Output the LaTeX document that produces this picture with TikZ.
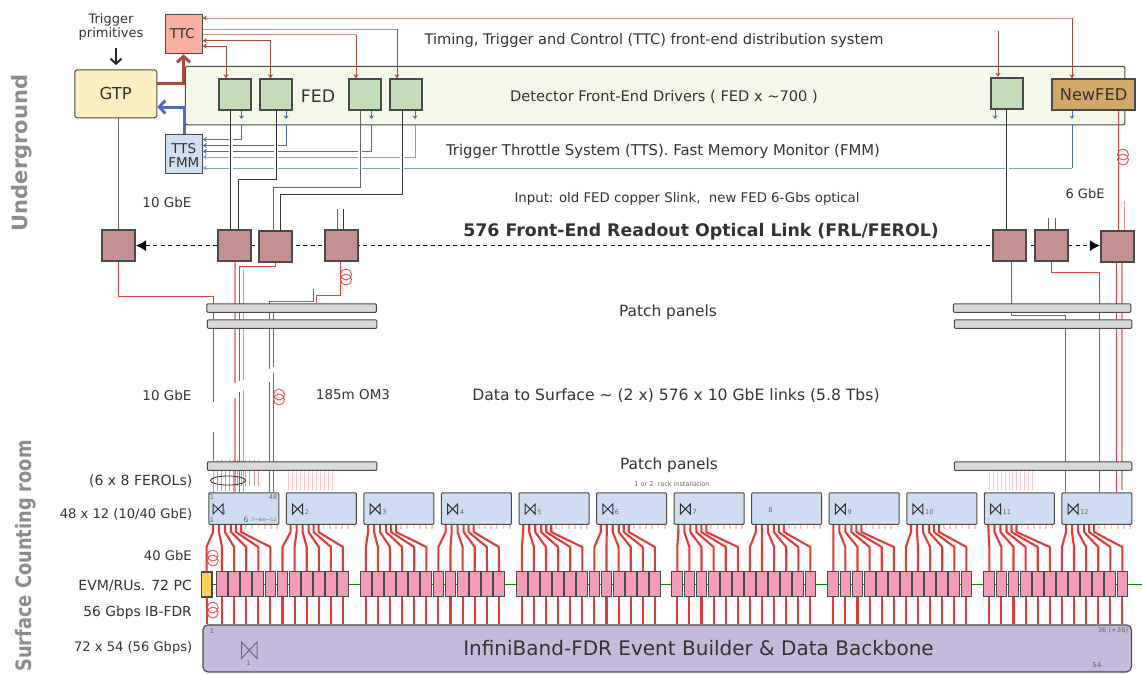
\documentclass[tikz,border=0pt]{standalone}
\usepackage{fontspec}
\setmainfont{DejaVu Sans}
\newfontfamily\sidefont[FakeStretch=0.84]{DejaVu Sans Bold}
\usetikzlibrary{arrows.meta}
\pgfdeclarelayer{bgzero}\pgfdeclarelayer{bgone}
\pgfsetlayers{bgzero,bgone,main}
\definecolor{ink}{HTML}{333333}
\definecolor{edge}{HTML}{4A4A4A}
\definecolor{fib}{HTML}{E83C3C}
\definecolor{fibl}{HTML}{F29090}
\definecolor{fibp}{HTML}{FFC4C4}
\definecolor{pull}{HTML}{E23A3A}
\definecolor{ttcl}{HTML}{A94A3A}
\definecolor{ttcp}{HTML}{C78F80}
\definecolor{ttsl}{HTML}{4A6FB8}
\definecolor{ttsp}{HTML}{7F9BD0}
\definecolor{ttcf}{HTML}{F9B0A0}
\definecolor{ttsf}{HTML}{CFE0F3}
\definecolor{gtpf}{HTML}{FDEFC2}
\definecolor{fedb}{HTML}{F4F8E8}
\definecolor{fedf}{HTML}{C2DDB8}
\definecolor{newf}{HTML}{D2A86A}
\definecolor{frlf}{HTML}{C49190}
\definecolor{panf}{HTML}{D8D9D9}
\definecolor{swf}{HTML}{CEDDF2}
\definecolor{pcf}{HTML}{F49DBA}
\definecolor{yelf}{HTML}{FFD060}
\definecolor{ibf}{HTML}{C6BADC}
\definecolor{coil}{HTML}{F04848}
\definecolor{sidet}{HTML}{8C8C8C}
\newcommand{\fs}[1]{\fontsize{#1}{#1}\selectfont}
\tikzset{
  x=1pt,y=-1pt,
  box/.style={draw=edge,line width=1pt,inner sep=0pt,anchor=north west,text=ink,xshift=-.7pt,yshift=.7pt},
  fedbox/.style={box,fill=fedf,line width=1.7pt,minimum width=32pt,minimum height=31pt},
  frlbox/.style={box,fill=frlf,line width=1.7pt,minimum width=33pt,minimum height=31pt},
  panel/.style={box,fill=panf,rounded corners=1pt,minimum height=8.5pt},
  swbox/.style={box,fill=swf,rounded corners=1pt,minimum width=70pt,minimum height=31.5pt},
  lab/.style={text=ink,inner sep=0pt,font=\fs{14}},
  rlab/.style={lab,anchor=east},
  tiny/.style={text=ink!75,inner sep=0pt,font=\fs{6.5}},
  ttcline/.style={ttcl,line width=.9pt,{Stealth[length=4pt,width=5pt]}-{Stealth[length=4pt,width=5pt]}},
  ttcdrop/.style={ttcl,line width=.9pt,-{Stealth[length=4pt,width=5pt]}},
  ttsline/.style={ttsl,line width=.9pt,{Stealth[length=4pt,width=5pt]}-},
  ttsdrop/.style={ttsl,line width=.8pt,-{Stealth[length=3.5pt,width=5pt]}},
  blk/.style={draw=ink,line width=1pt},
  gline/.style={draw=gray!80!black,line width=1pt},
  fibre/.style={fib,line width=1pt},
  fibrel/.style={fibl,line width=1.3pt},
  bundle/.style={pull,line width=2.1pt,line join=round},
  coilc/.style={coil,line width=.9pt},
  gapw/.style={white,line width=4pt},
}
\begin{document}
\begin{tikzpicture}
\useasboundingbox (0,0) rectangle (1142,673);

% ---------- nodes ----------
\node[box,fill=ttcf,minimum width=37pt,minimum height=39.5pt] (ttc) at (165.5,14.5) {\fs{13.5}\kern-3pt TTC};
\node[box,fill=ttsf,minimum width=37pt,minimum height=39.5pt] (tts) at (165.5,134.5) {};
\node[lab,align=center,font=\fs{13.5}] (ttslab) at ([yshift=-1.5pt]tts.center) {TTS\\[1pt]FMM};
\node[box,fill=gtpf,rounded corners=2.5pt,minimum width=82pt,minimum height=48pt] (gtp) at (75,70) {\fs{16.5}GTP};
\begin{pgfonlayer}{bgzero}
\node[box,fill=fedb,rounded corners=2pt,line width=1.1pt,minimum width=939.5pt,minimum height=58.5pt] (fedall) at (185.5,66.5) {};
\end{pgfonlayer}
\node[fedbox] (fed1) at (219,79) {};
\node[fedbox] (fed2) at (260,79) {};
\node[fedbox] (fed3) at (349,79) {};
\node[fedbox] (fed4) at (389.5,79) {};
\node[fedbox] (fed5) at (990.5,77.5) {};
\node[box,fill=newf,line width=1.5pt,minimum width=83pt,minimum height=31pt] (newfed) at (1052,79) {\fs{16.2}NewFED};

\node[frlbox] (frl0) at (102,230) {};
\node[frlbox] (frl1) at (217.5,230) {};
\node[frlbox] (frl2) at (259,231) {};
\node[frlbox] (frl3) at (325,230) {};
\node[frlbox] (frl4) at (993,230) {};
\node[frlbox] (frl5) at (1035,230) {};
\node[frlbox] (frl6) at (1100.5,231) {};

\node[panel,minimum width=169.5pt] (pa1) at (207,304) {};
\node[panel,minimum width=169.5pt] (pa2) at (207.5,320) {};
\node[panel,minimum width=169.5pt] (pa3) at (207.5,462) {};
\node[panel,minimum width=177.5pt] (pb1) at (953.5,304) {};
\node[panel,minimum width=177.5pt] (pb2) at (954.5,320) {};
\node[panel,minimum width=177.5pt] (pb3) at (954.5,462) {};

\node[box,fill=ibf,rounded corners=5pt,line width=1.2pt,minimum width=928.5pt,minimum height=47pt] (ib) at (203,625) {};
\node[text=ink,inner sep=0pt,font=\fs{20}] (ibt) at (698.5,648.5) {InfiniBand-FDR Event Builder \& Data Backbone};

% switches
\foreach \b in {1,...,12}{
  \pgfmathsetmacro{\sx}{209+77.55*(\b-1)}
  \node[swbox] (sw\b) at (\sx,493) {};
  \foreach \t in {0,...,5}{
    \draw[fibp,line width=1.8pt] (\sx+37+6.2*\t,525) -- (\sx+37+6.2*\t,528.5);
  }
}

% computers
\foreach \b in {1,...,12}{
  \foreach \i in {0,...,5}{
    \pgfmathtruncatemacro{\g}{int((\b-1)/2)}
    \pgfmathtruncatemacro{\n}{6*(\b-1)+\i+1}
    \pgfmathsetmacro{\gs}{{205.1,361,517,672.5,828.5,984.5}[\g]}
    \pgfmathsetmacro{\px}{\gs+5.5+12.1*(\i+6*mod(\b-1,2))}
    \ifnum\n=1
      \node[box,fill=yelf,line width=1.5pt,minimum width=10.5pt,minimum height=25pt,anchor=north] (pc\n) at (207.25,572) {};
    \else
      \node[box,fill=pcf,minimum width=10.8pt,minimum height=25pt,anchor=north] (pc\n) at (\px,572) {};
    \fi
    \begin{pgfonlayer}{bgone}
      \pgfmathsetmacro{\off}{{4,10,16,22,27,32}[\i]}
      \pgfmathsetmacro{\sx}{209+77.55*(\b-1)+\off}
      \draw[bundle] (sw\b.south -| \sx,0) -- (\sx,532) -- (pc\n.north |- 0,547) -- (pc\n.north);
      \draw[bundle] (pc\n.south) -- (ib.north -| pc\n.south);
    \end{pgfonlayer}
  }
}

\begin{pgfonlayer}{bgone}
% green network line
\draw[green!55!black,line width=.9pt] (pc1.east |- 0,584.5) -- (1142,584.5);

% thick GTP links
\draw[ttcl,line width=3pt,-{Straight Barb[length=6pt,width=13pt]},line join=miter] (gtp.east |- 0,83.5) -- (183.5,83.5) -- (ttc.south -| 183.5,0);
\draw[ttsl,line width=3pt,-{Straight Barb[length=6pt,width=13pt]},line join=miter] (tts.north -| 184,0) -- (184,107) -- (gtp.east |- 0,107);

% TTC distribution
\draw[ttcdrop,ttcp,{Stealth[length=4pt,width=5pt,color=ttcl]}-] (ttc.east |- 0,18) -- (1072,18);
\draw[ttcdrop] (1072,18) -- (newfed.north -| 1072,0);
\draw[ttcline,ttcp,-] (ttc.east |- 0,29) -- (397,29);
\draw[ttcdrop] (397,29) -- (fed4.north -| 397,0);
\draw[ttcline,ttcp,-] (ttc.east |- 0,34.5) -- (356,34.5);
\draw[ttcdrop] (356,34.5) -- (fed3.north -| 356,0);
\draw[ttcline] (ttc.east |- 0,40.5) -- (270.5,40.5) -- (fed2.north -| 270.5,0);
\draw[ttcline] (ttc.east |- 0,46) -- (226,46) -- (fed1.north -| 226,0);
\coordinate (ttcfree) at (998,31);
\draw[ttcdrop] (ttcfree) -- (fed5.north -| 998,0);

% TTS collection
\foreach \f/\x in {fed1/241.5,fed2/286,fed3/371.5,fed4/415,fed5/995,newfed/1072}{
  \draw[ttsdrop] (\f.south -| \x,0) -- (\x,119);
}
\draw[ttsline] (tts.east |- 0,139.5) -- (241.5,139.5) -- (fedall.south -| 241.5,0);
\draw[ttsline] (tts.east |- 0,145.5) -- (286,145.5) -- (fedall.south -| 286,0);
\draw[ttsline] (tts.east |- 0,151.5) -- (371.5,151.5) -- (fedall.south -| 371.5,0);
\draw[ttsline,ttsp] (tts.east |- 0,157) -- (415,157) -- (fedall.south -| 415,0);
\draw[ttsline,ttsp] (tts.east |- 0,168) -- (1072,168);
\draw[ttsl,line width=.9pt] (1072,168) -- (fedall.south -| 1072,0);

% crossing gaps
\foreach \x in {230.5,276,360,402}{ \draw[gapw] (\x,135) -- (\x,171); }
\draw[gapw] (1006.7,165) -- (1006.7,171);

% copper links
\draw[blk] (fed1.south -| 230.5,0) -- (frl1.north -| 230.5,0);
\draw[blk] (fed2.south -| 276,0) -- (276,179) -- (238.7,179) -- (frl1.north -| 238.7,0);
\draw[gline] (fed3.south -| 360,0) -- (360,187) -- (273.7,187) -- (frl2.north -| 273.7,0);
\draw[blk] (fed4.south -| 402,0) -- (402,194.5) -- (280.7,194.5) -- (frl2.north -| 280.7,0);
\draw[gline] (gtp.south -| 118.5,0) -- (frl0.north -| 118.5,0);
\draw[blk] (fed5.south -| 1006.7,0) -- (frl4.north -| 1006.7,0);
\coordinate (stub1) at (337.3,209); \coordinate (stub2) at (343.3,209);
\coordinate (stub3) at (1048,218);  \coordinate (stub4) at (1055,218);
\draw[gline] (stub1) -- (frl3.north -| stub1);
\draw[blk] (stub2) -- (frl3.north -| stub2);
\draw[gline] (stub3) -- (frl5.north -| stub3);
\draw[gline] (stub4) -- (frl5.north -| stub4);

% dashed optical link
\draw[dashed,line width=1pt,dash pattern=on 4pt off 3.5pt,{Latex[length=10pt,width=11pt]}-{Latex[length=10pt,width=11pt]}] (frl0.east) -- (frl6.west |- frl0.east);

% fibres, left
\draw[fibre] (frl0.south -| 118,0) -- (118,296.5) -- (213.5,296.5) -- (sw1.north -| 213.5,0);
\draw[fibrel] (frl1.south -| 235,0) -- (sw1.north -| 235,0);
\draw[fibre] (frl2.south -| 275.6,0) -- (275.6,266.5) -- (239,266.5) -- (sw1.north -| 239,0);
\coordinate (f243) at (243.5,270);
\draw[fibrel] (f243) -- (sw1.north -| f243);
\draw[fibre] (frl3.south -| 340.5,0) -- (340.5,295) -- (316.5,295) -- (pa1.north -| 316.5,0);
\coordinate (f313) at (313,289);
\draw[fibre] (f313) -- (313,301) -- (269.5,301) -- (sw1.north -| 269.5,0);
\coordinate (f273) at (273.5,312);
\draw[fibre] (f273) -- (sw1.north -| f273);
% fibres, right
\draw[fibre] (frl4.south -| 1011.7,0) -- (1011.7,315) -- (1065,315) -- (sw12.north -| 1065,0);
\draw[fibre] (frl5.south -| 1051,0) -- (1051,272) -- (1099.5,272) -- (sw12.north -| 1099.5,0);
\draw[fibre] (newfed.south -| 1118,0) -- (frl6.north -| 1118,0);
\coordinate (f1124) at (1124.5,201);
\draw[fibrel] (f1124) -- (frl6.north -| f1124);
\draw[fibre] (frl6.south -| 1116.5,0) -- (sw12.north -| 1116.5,0);
\coordinate (f1122) at (1122,490);
\draw[fibrel] (frl6.south -| f1122) -- (f1122);
% gaps in the fibres
\draw[gapw] (213.5,402) -- (213.5,432);
\draw[gapw,line width=3pt] (235,383) -- (235,398);
\draw[gapw,line width=3pt] (239,381) -- (239,392);
\draw[gapw,line width=3pt] (243.5,380) -- (243.5,390);
\draw[gapw,line width=3pt] (269.5,369) -- (269.5,382);
\draw[gapw,line width=3pt] (273.5,367) -- (273.5,373);

% short fibres at the lower patch panels
\foreach \i in {0,...,11}{
  \draw[fibl,line width=.9pt] (213+4.1*\i,460) -- (213+4.1*\i,\ifnum\i<6 491\else 486\fi);
  \draw[fibp,line width=1pt] (288+4*\i,470) -- (288+4*\i,490);
  \draw[fibp,line width=1pt] (989.3+3.94*\i,470) -- (989.3+3.94*\i,490);
}
\end{pgfonlayer}

% ---------- switch symbols ----------
\foreach \b/\t in {1/1,2/2,3/3,4/4,5/5,6/6,7/7,9/9,10/10,11/11,12/12}{
  \pgfmathsetmacro{\sx}{209+77.55*(\b-1)+\ifnum\b=1 9\else 11\fi}
  \draw[ink,line width=1pt,line join=miter] (\sx-5,504) -- (\sx-5,514) -- (\sx+5,504) -- (\sx+5,514) -- cycle;
  \node[tiny,anchor=west] at (\sx+\ifnum\b=1 4\else 7\fi,512.5) {\t};
}
\node[tiny] at (770.5,510.5) {8};
\node[tiny] at (212,497.5) {1};
\node[tiny] at (273,497.5) {48};
\node[tiny] at (212,520) {1};
\node[tiny,font=\fs{7.5}] at (246,520) {6};
\node[tiny,font=\fs{4.5}] at (264,520) {7—6m—12};
\node[tiny] at (212,631) {1};
\node[tiny,font=\fs{6.8}] at (1113,630.5) {36 (+36)};
\node[tiny,font=\fs{6.8}] at (1097,665.5) {54};
\draw[gray!85!black,line width=1pt] (241.5,642) -- (241.5,658.5) -- (257,642) -- (257,658.5) -- cycle;
\node[tiny] at (248.5,663.5) {1};

% ---------- coils ----------
\foreach \x/\y in {346/277,279/397,1123/157,212.8/558,212.8/610}{
  \draw[coilc] (\x,\y-2.5) circle[radius=5.5];
  \draw[coilc] (\x,\y+2.5) circle[radius=5.5];
}
\draw[black!80,line width=.8pt] (228,480.5) ellipse[x radius=17.5,y radius=4.5];

% ---------- arrow ----------
\coordinate (trigtop) at (116,48);
\draw[ink!80!black,line width=2pt,-{Straight Barb[length=5pt,width=11pt]}] (trigtop) -- (116,65);

% ---------- texts ----------
\node[lab,align=center,font=\fs{13}] (trig) at (111,27) {Trigger\\[1pt]primitives};
\node[lab,font=\fs{17.3}] (fedlab) at (318,96) {FED};
\node[lab,font=\fs{14.6}] (t1) at (654,40.5) {Timing, Trigger and Control (TTC) front-end distribution system};
\node[lab,font=\fs{14.6}] (t2) at (664,96.5) {Detector Front-End Drivers ( FED x \textasciitilde 700 )};
\node[lab,font=\fs{14.85}] (t3) at (663,151.5) {Trigger Throttle System (TTS). Fast Memory Monitor (FMM)};
\node[lab,font=\fs{13.3}] (t4) at (687,198.5) {Input: old FED copper Slink,\ \ new FED 6-Gbs optical};
\node[lab,font=\fs{13.5}] (g1) at (167,202) {10 GbE};
\node[lab,font=\fs{13}] (g2) at (1085,194) {6 GbE};
\node[text=ink,fill=white,inner sep=2pt,font=\bfseries\fs{17.35}] (t5) at (701,231.5) {576 Front-End Readout Optical Link (FRL/FEROL)};
\node[lab,font=\fs{15.4}] (t6) at (668,312.5) {Patch panels};
\node[lab,font=\fs{15.4}] (t7) at (669,465.5) {Patch panels};
\node[lab,font=\fs{13.5}] (g3) at (167,395) {10 GbE};
\node[lab,font=\fs{13.5}] (t8) at (353,395) {185m OM3};
\node[lab,font=\fs{15.6}] (t9) at (676,395.5) {Data to Surface \textasciitilde{} (2 x) 576 x 10 GbE links (5.8 Tbs)};
\node[tiny,font=\fs{6.5}] (t10) at (672,484) {1 or 2\ \ rack installation};

\node[rlab,font=\fs{14}] at (192.5,481) {(6 x 8 FEROLs)};
\node[rlab,font=\fs{13.1}] at (192.5,514.5) {48 x 12 (10/40 GbE)};
\node[rlab,font=\fs{13.2}] at (192,555.5) {40 GbE};
\node[rlab,font=\fs{14}] at (192,585.5) {EVM/RUs. 72 PC};
\node[rlab,font=\fs{13.8}] at (192,612.5) {56 Gbps IB-FDR};
\node[rlab,font=\fs{13.1}] at (192.5,648) {72 x 54 (56 Gbps)};

\node[rotate=90,text=sidet,inner sep=0pt,font=\bfseries\fs{21}] (ug) at (21.5,153) {Underground};
\node[rotate=90,text=sidet,inner sep=0pt,font=\sidefont\fs{21.2},anchor=east] (sc) at (26,440) {Surface Counting room};
\end{tikzpicture}
\end{document}
